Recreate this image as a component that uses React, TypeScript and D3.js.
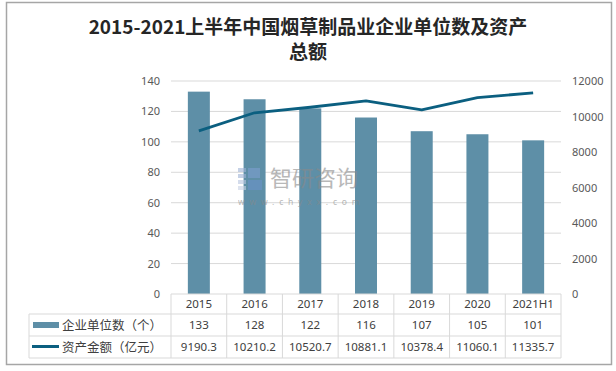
import React from "react";
import * as d3 from "d3";

const years = ["2015", "2016", "2017", "2018", "2019", "2020", "2021H1"];
const companies = [133, 128, 122, 116, 107, 105, 101];
const assets = [9190.3, 10210.2, 10520.7, 10881.1, 10378.4, 11060.1, 11335.7];
const leftTicks = [0, 20, 40, 60, 80, 100, 120, 140];
const rightTicks = [0, 2000, 4000, 6000, 8000, 10000, 12000];

const W = 616;
const H = 371;
const plotLeft = 171;
const plotRight = 561;
const plotTop = 81;
const plotBottom = 294;
const rowH = [294, 314, 336, 358];
const legendLeft = 29;

const barColor = "#5e8fa7";
const lineColor = "#0b5f80";
const gridColor = "#d9d9d9";
const font = "'Noto Sans CJK SC', 'Noto Sans', sans-serif";
const numFont = "'Noto Sans', 'DejaVu Sans', sans-serif";

const App = () => {
  const x = d3.scaleBand().domain(years).range([plotLeft, plotRight]).paddingInner(0).paddingOuter(0);
  const yL = d3.scaleLinear().domain([0, 140]).range([plotBottom, plotTop]);
  const yR = d3.scaleLinear().domain([0, 12000]).range([plotBottom, plotTop]);
  const barW = 22;

  const line = d3
    .line<number>()
    .x((_, i) => (x(years[i]) as number) + x.bandwidth() / 2)
    .y((d) => yR(d));

  return (
    <svg
      width={W}
      height={H}
      style={{ position: "absolute", left: 0, top: 0, fontFamily: font }}
    >
      <rect x={0} y={0} width={W} height={H} fill="#fff" />
      <rect x={6.5} y={2.5} width={605} height={362} fill="none" stroke="#a6a6a6" strokeWidth={1.5} />

      <text x={308} y={34} textAnchor="middle" fontSize={19} fontWeight="bold" fill="#262626">
        2015-2021上半年中国烟草制品业企业单位数及资产
      </text>
      <text x={308} y={59} textAnchor="middle" fontSize={19} fontWeight="bold" fill="#262626">
        总额
      </text>

      {leftTicks.map((t) => (
        <g key={"l" + t}>
          {t > 0 && (
            <line x1={plotLeft} x2={plotRight} y1={yL(t)} y2={yL(t)} stroke={gridColor} strokeWidth={1} />
          )}
          <text x={160} y={yL(t) + 4} textAnchor="end" fontSize={11} fill="#595959" fontFamily={numFont}>
            {t}
          </text>
        </g>
      ))}
      {rightTicks.map((t) => (
        <text key={"r" + t} x={572} y={yR(t) + 4} textAnchor="start" fontSize={11} fill="#595959" fontFamily={numFont}>
          {t}
        </text>
      ))}

      {companies.map((v, i) => (
        <rect
          key={"b" + i}
          x={(x(years[i]) as number) + x.bandwidth() / 2 - barW / 2}
          y={yL(v)}
          width={barW}
          height={plotBottom - yL(v)}
          fill={barColor}
        />
      ))}

      {/* watermark */}
      <g opacity={0.6}>
        <rect x={238} y={168} width={8} height={4} fill="#9fb3d6" />
        <rect x={238} y={174} width={8} height={4} fill="#9fb3d6" />
        <rect x={238} y={180} width={8} height={4} fill="#b8c6e0" />
        <rect x={238} y={186} width={8} height={4} fill="#c8d2e6" />
        <rect x={248} y={168} width={12} height={10} fill="#7d9fd0" />
        <rect x={248} y={180} width={14} height={10} fill="#6b93c9" />
        <text x={270} y={186} fontSize={22} fill="#8a8a8a">
          智研咨询
        </text>
        <text x={238} y={205} fontSize={8.5} fill="#8a8a8a" letterSpacing={4.8} fontFamily={numFont}>
          www.chyxx.com
        </text>
      </g>

      <path d={line(assets) || ""} fill="none" stroke={lineColor} strokeWidth={2.8} strokeLinejoin="round" />

      {/* data table */}
      <line x1={plotLeft} x2={plotRight} y1={rowH[0]} y2={rowH[0]} stroke={gridColor} />
      {rowH.slice(1).map((yy) => (
        <line key={"h" + yy} x1={legendLeft} x2={plotRight} y1={yy} y2={yy} stroke={gridColor} />
      ))}
      <line x1={legendLeft} x2={legendLeft} y1={rowH[1]} y2={rowH[3]} stroke={gridColor} />
      {years.map((yr) => (
        <line
          key={"v" + yr}
          x1={x(yr) as number}
          x2={x(yr) as number}
          y1={rowH[0]}
          y2={rowH[3]}
          stroke={gridColor}
        />
      ))}
      <line x1={plotRight} x2={plotRight} y1={rowH[0]} y2={rowH[3]} stroke={gridColor} />

      {years.map((yr, i) => {
        const cx = (x(yr) as number) + x.bandwidth() / 2;
        return (
          <g key={"t" + yr} fontSize={11.5} fill="#404040" textAnchor="middle" fontFamily={numFont}>
            <text x={cx} y={308}>{yr}</text>
            <text x={cx} y={329}>{companies[i]}</text>
            <text x={cx} y={351}>{assets[i].toFixed(1)}</text>
          </g>
        );
      })}

      <rect x={33} y={322} width={26} height={6} fill={barColor} />
      <text x={62} y={330} fontSize={12.5} fill="#404040">
        企业单位数（个）
      </text>
      <line x1={32} x2={59} y1={346.5} y2={346.5} stroke={lineColor} strokeWidth={3} />
      <text x={62} y={351.5} fontSize={12.5} fill="#404040">
        资产金额（亿元）
      </text>
    </svg>
  );
};

export default App;
